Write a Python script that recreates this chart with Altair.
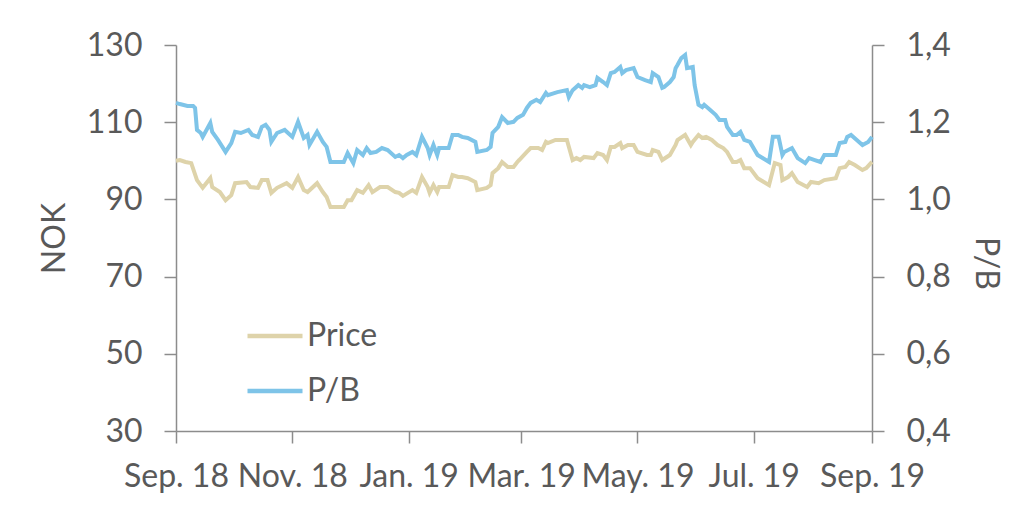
import altair as alt
import pandas as pd

# Days since 1 Sep 2018 and values
price_days = [0, 2, 5, 8, 11, 14, 18, 19, 23, 26, 29, 31, 37, 39, 43, 45, 48, 50, 53, 58,
              61, 64, 67, 69, 74, 77, 79, 81, 88, 90, 92, 95, 98, 101, 103, 107, 111, 115, 117, 119,
              124, 126, 129, 132, 133, 135, 137, 138, 143, 145, 148, 150, 153, 157, 158, 163, 165, 166, 169, 171,
              174, 177, 179, 180, 184, 186, 190, 192, 194, 195, 199, 205, 208, 210, 212, 214, 219, 221, 224, 226,
              228, 230, 233, 234, 237, 240, 242, 247, 249, 250, 253, 255, 259, 262, 263, 267, 270, 271, 274, 276,
              278, 281, 284, 287, 289, 292, 294, 296, 298, 301, 305, 311, 314, 317, 318, 321, 323, 326, 331, 333,
              337, 340, 346, 348, 351, 353, 356, 360, 362, 365]
price_values = [100.0, 100.2, 99.7, 99.4, 95.0, 93.0, 95.5, 93.2, 91.9, 89.8, 91.1, 94.2, 94.5, 93.2, 93.0, 95.0, 95.0, 91.7, 93.0, 94.2,
                93.0, 95.8, 92.4, 91.9, 94.2, 91.9, 90.6, 88.0, 88.0, 89.8, 89.8, 92.4, 91.7, 93.7, 91.9, 93.2, 93.2, 91.9, 91.7, 90.9,
                92.4, 91.7, 95.8, 93.2, 91.7, 93.7, 91.9, 93.2, 93.2, 96.3, 95.8, 95.8, 95.5, 94.5, 92.4, 93.0, 93.7, 96.8, 98.1, 99.7,
                98.4, 98.4, 99.7, 100.2, 102.3, 103.3, 103.3, 102.8, 104.9, 104.6, 105.4, 105.4, 100.2, 100.7, 100.2, 101.0, 100.7, 102.0, 101.5, 100.2,
                103.6, 103.6, 104.6, 103.3, 104.1, 104.1, 102.3, 101.5, 101.5, 102.8, 102.3, 100.2, 101.5, 104.1, 105.4, 106.7, 104.1, 104.9, 106.7, 105.9,
                106.2, 105.4, 104.1, 103.3, 102.3, 99.7, 99.7, 100.2, 98.1, 98.1, 95.5, 93.7, 99.4, 98.9, 95.0, 95.8, 96.8, 94.5, 93.2, 94.5,
                94.2, 95.0, 95.5, 98.1, 98.4, 99.7, 98.9, 97.6, 98.1, 99.7]

pb_days = [0, 2, 6, 9, 10, 11, 13, 14, 18, 19, 22, 26, 29, 31, 34, 38, 40, 43, 45, 47,
           49, 50, 53, 57, 61, 64, 67, 69, 70, 74, 77, 79, 81, 88, 90, 93, 95, 98, 100, 102,
           105, 108, 111, 115, 117, 119, 121, 124, 126, 129, 132, 133, 135, 137, 138, 143, 145, 148, 150, 153,
           157, 158, 163, 165, 166, 169, 171, 174, 177, 179, 182, 184, 186, 189, 191, 194, 195, 200, 205, 206,
           208, 211, 213, 214, 217, 220, 221, 224, 226, 228, 230, 233, 234, 236, 240, 242, 246, 249, 250, 253,
           255, 256, 259, 261, 262, 263, 265, 267, 268, 271, 272, 274, 276, 277, 280, 283, 285, 288, 289, 292,
           294, 296, 298, 301, 305, 311, 313, 316, 318, 319, 323, 326, 330, 332, 335, 338, 340, 346, 348, 351,
           352, 354, 357, 360, 363, 365]
pb_values = [1.250, 1.247, 1.242, 1.242, 1.237, 1.180, 1.172, 1.162, 1.198, 1.175, 1.154, 1.123, 1.146, 1.175, 1.172, 1.180, 1.167, 1.162, 1.188, 1.193,
             1.180, 1.149, 1.172, 1.180, 1.162, 1.201, 1.159, 1.167, 1.141, 1.175, 1.149, 1.136, 1.097, 1.097, 1.120, 1.094, 1.128, 1.115, 1.133, 1.120,
             1.123, 1.133, 1.128, 1.110, 1.115, 1.107, 1.115, 1.123, 1.115, 1.162, 1.133, 1.115, 1.141, 1.115, 1.133, 1.133, 1.167, 1.167, 1.162, 1.159,
             1.149, 1.123, 1.128, 1.136, 1.172, 1.188, 1.213, 1.198, 1.201, 1.211, 1.219, 1.237, 1.250, 1.258, 1.252, 1.276, 1.270, 1.278, 1.283, 1.265,
             1.283, 1.296, 1.289, 1.296, 1.291, 1.296, 1.315, 1.304, 1.296, 1.327, 1.330, 1.343, 1.327, 1.335, 1.340, 1.317, 1.309, 1.304, 1.327, 1.317,
             1.289, 1.291, 1.304, 1.317, 1.340, 1.348, 1.366, 1.374, 1.340, 1.343, 1.296, 1.245, 1.239, 1.245, 1.232, 1.219, 1.206, 1.206, 1.188, 1.167,
             1.167, 1.175, 1.154, 1.149, 1.115, 1.097, 1.162, 1.162, 1.115, 1.123, 1.133, 1.107, 1.094, 1.107, 1.102, 1.097, 1.115, 1.115, 1.146, 1.149,
             1.162, 1.167, 1.154, 1.141, 1.149, 1.162]

series_names = ["Price", "P/B"]
series_colors = ["#DED3AA", "#7EC4E8"]
nok_ticks = [30, 50, 70, 90, 110, 130]
pb_ticks = [0.4, 0.6, 0.8, 1.0, 1.2, 1.4]

start = pd.Timestamp("2018-09-01")
price_df = pd.DataFrame({
    "date": start + pd.to_timedelta(price_days, unit="D"),
    "value": price_values,
    "series": "Price",
})
pb_df = pd.DataFrame({
    "date": start + pd.to_timedelta(pb_days, unit="D"),
    "value": pb_values,
    "series": "P/B",
})

FONT = "Lato"
GREY = "#595959"
LINE = "#8C8C8C"
FS = 32

x_ticks = [alt.DateTime(year=y, month=m, date=1) for (y, m) in
           [(2018, 9), (2018, 11), (2019, 1), (2019, 3), (2019, 5), (2019, 7), (2019, 9)]]

x_enc = alt.X(
    "date:T",
    scale=alt.Scale(domain=[alt.DateTime(year=2018, month=9, date=1),
                            alt.DateTime(year=2019, month=9, date=1)]),
    axis=alt.Axis(values=x_ticks, format="%b. %y", title=None, labelOverlap=False,
                  labelFlush=False, labelPadding=18, tickSize=12),
)

color_enc = alt.Color(
    "series:N",
    scale=alt.Scale(domain=series_names, range=series_colors),
    legend=alt.Legend(
        title=None, orient="none", legendX=69, legendY=261, direction="vertical",
        symbolType="stroke", symbolSize=3025, symbolStrokeWidth=4.5,
        labelFont=FONT, labelFontSize=FS, labelColor=GREY, labelOffset=2,
        rowPadding=9, padding=0,
        labelExpr="datum.label == 'P/B' ? '\u2009P/B' : datum.label",
    ),
)

price_line = alt.Chart(price_df).mark_line(strokeWidth=4).encode(
    x=x_enc,
    y=alt.Y("value:Q", scale=alt.Scale(domain=[30, 130], nice=False, zero=False),
            axis=alt.Axis(orient="left", values=nok_ticks, title="NOK", labelPadding=22,
                          tickSize=12, titleX=-122, titleY=193, titleAngle=-90,
                          titleAlign="center", titleBaseline="middle")),
    color=color_enc,
)

pb_line = alt.Chart(pb_df).mark_line(strokeWidth=4).encode(
    x=x_enc,
    y=alt.Y("value:Q", scale=alt.Scale(domain=[0.4, 1.4], nice=False, zero=False),
            axis=alt.Axis(orient="right", values=pb_ticks, title="P/B", labelPadding=22,
                          tickSize=12, titleX=113, titleY=218, titleAngle=90,
                          titleAlign="center", titleBaseline="middle",
                          labelExpr="replace(format(datum.value, '.1f'), '.', ',')")),
    color=color_enc,
)

chart = alt.layer(price_line, pb_line).resolve_scale(y="independent").properties(
    width=696, height=386,
    autosize=alt.AutoSizeParams(type="none"),
    padding={"left": 168, "top": 37, "right": 136, "bottom": 85},
    background="white",
).configure_view(stroke=None).configure_axis(
    grid=False, domainColor=LINE, domainWidth=1.5, tickColor=LINE, tickWidth=1.5,
    labelFont=FONT, labelFontSize=FS, labelColor=GREY,
    titleFont=FONT, titleFontSize=FS, titleColor=GREY, titleFontWeight="normal",
)

chart.save("out.html", embed_options={"renderer": "svg", "actions": False})
